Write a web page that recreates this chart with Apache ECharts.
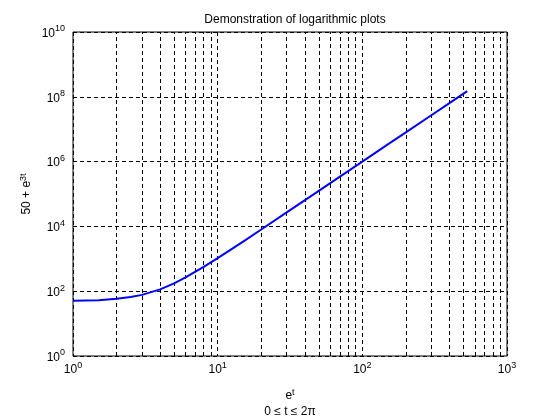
<!DOCTYPE html>
<html><head><meta charset="utf-8">
<script src="https://cdn.jsdelivr.net/npm/echarts@6/dist/echarts.min.js"></script>
<style>html,body{margin:0;padding:0;background:#fff}#c{width:560px;height:420px}</style>
</head><body><div id="c"></div>
<script>
// values: x = e^t, y = 50 + e^(3t)
var xValues = [1, 1.5, 2, 2.5, 3, 4, 5, 6, 8, 10, 15, 20, 30, 50, 70, 100, 150, 200, 300, 400, 531];
var yValues = [51, 53, 58, 66, 77, 114, 175, 266, 560, 1050, 3400, 8000, 27000, 125000, 343000, 1.0e6, 3.4e6, 8.0e6, 2.7e7, 6.4e7, 1.5e8];
var minorGridX = [2,3,4,5,6,7,8,9,20,30,40,50,60,70,80,90,200,300,400,500,600,700,800,900];
var titleText = 'Demonstration of logarithmic plots';

var FONT = '"Liberation Sans", Arial, sans-serif';
var DASH = [4,3];
function powLabel(v){
  var e = Math.round(Math.log10(v));
  return '{b|10}{e|' + e + '}';
}
var richLab = {
  b: {fontSize: 12, fontFamily: FONT, color: '#000', verticalAlign: 'bottom', lineHeight: 15},
  e: {fontSize: 9, fontFamily: FONT, color: '#000', verticalAlign: 'top', lineHeight: 15, padding: [0,0,7,0]}
};
var chart = echarts.init(document.getElementById('c'));
var pts = xValues.map(function(x,i){return [x, yValues[i]];});
chart.setOption({
  backgroundColor: '#fff',
  animation: false,
  title: {text: titleText, left: 290, top: 9, textAlign: 'center',
    textStyle: {fontSize: 12, fontWeight: 'normal', fontFamily: FONT, color: '#000'}},
  grid: {left: 73, top: 32, width: 434, height: 324, show: true, borderColor: '#000', borderWidth: 1,
    backgroundColor: 'transparent', containLabel: false, outerBoundsMode: 'none'},
  xAxis: {type: 'log', min: 1, max: 1000, logBase: 10,
    axisLine: {show: false}, axisTick: {show: false},
    splitLine: {show: true, lineStyle: {color: '#000', type: DASH, width: 1}},
    axisLabel: {formatter: powLabel, rich: richLab, margin: 5, showMinLabel: true, showMaxLabel: true},
    name: '{b|e}{e|t}\n{c|0 ≤ t ≤ 2π}', nameLocation: 'middle', nameGap: 32,
    nameTextStyle: {rich: {
      b: {fontSize: 12, fontFamily: FONT, color: '#000', lineHeight: 16},
      e: {fontSize: 9, fontFamily: FONT, color: '#000', padding: [0,0,7,0], lineHeight: 16},
      c: {fontSize: 12, fontFamily: FONT, color: '#000', lineHeight: 16}
    }}
  },
  yAxis: {type: 'log', min: 1, max: 1e10, interval: 2, logBase: 10,
    axisLine: {show: false}, axisTick: {show: false},
    splitLine: {show: true, lineStyle: {color: '#000', type: DASH, width: 1}},
    axisLabel: {formatter: powLabel, rich: richLab, margin: 8, showMinLabel: true, showMaxLabel: true},
    name: '{b|50 + e}{e|3t}', nameLocation: 'middle', nameGap: 38, nameRotate: 90, nameMoveOverlap: false,
    nameTextStyle: {rich: {
      b: {fontSize: 12, fontFamily: FONT, color: '#000', lineHeight: 16},
      e: {fontSize: 9, fontFamily: FONT, color: '#000', padding: [0,0,7,0], lineHeight: 16}
    }}
  },
  series: [
    {type: 'line', data: [], silent: true,
      markLine: {silent: true, symbol: ['none','none'], label: {show: false}, animation: false,
        lineStyle: {color: '#000', type: DASH, width: 1},
        data: minorGridX.map(function(v){return {xAxis: v};})}},
    {type: 'line', data: pts, showSymbol: false, smooth: false,
      lineStyle: {color: '#0000ff', width: 2}, z: 5}
  ]
});
</script></body></html>
